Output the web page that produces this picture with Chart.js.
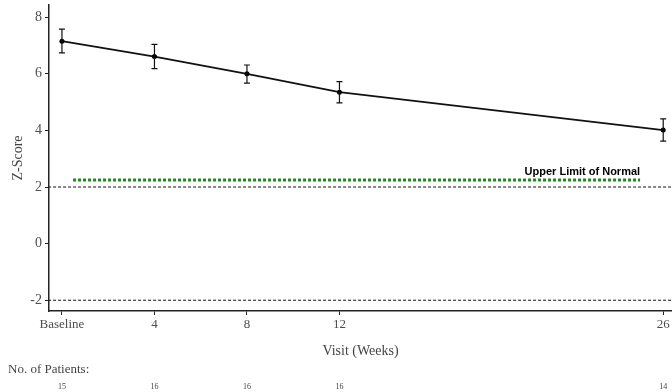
<!DOCTYPE html>
<html>
<head>
<meta charset="utf-8">
<script src="https://cdn.jsdelivr.net/npm/chart.js@4/dist/chart.umd.min.js"></script>
<style>
  html, body { margin: 0; padding: 0; background: #fff; }
  canvas { display: block; }
</style>
</head>
<body>
<canvas id="zscore" width="672" height="392"></canvas>
<script>
// visit weeks and their labels
const weeks = [0, 4, 8, 12, 26];
const weekLabels = ['Baseline', '4', '8', '12', '26'];

// mean z-score with error bar ends
const zMean  = [7.15, 6.61, 6.00, 5.35, 4.01];
const zUpper = [7.58, 7.04, 6.31, 5.72, 4.41];
const zLower = [6.74, 6.18, 5.67, 4.97, 3.62];

const patients = [15, 16, 16, 16, 14];

// reference lines
const normalBounds = [2, -2];
const upperLimit = 2.25;
const upperLimitSpan = [0.48, 25.0];

const yTicks = [-2, 0, 2, 4, 6, 8];

const serif = '"Liberation Serif", "DejaVu Serif", serif';
const sans = '"Liberation Sans", Arial, sans-serif';

const errorBars = {
	id: 'errorBars',
	afterDatasetsDraw(chart) {
		const { ctx, scales: { x, y } } = chart;
		ctx.save();
		ctx.strokeStyle = '#111';
		ctx.lineWidth = 1.2;
		weeks.forEach((w, i) => {
			let px = x.getPixelForValue(w);
			let top = y.getPixelForValue(zUpper[i]);
			let bot = y.getPixelForValue(zLower[i]);
			ctx.beginPath();
			ctx.moveTo(px, top); ctx.lineTo(px, bot);
			ctx.moveTo(px - 3, top); ctx.lineTo(px + 3, top);
			ctx.moveTo(px - 3, bot); ctx.lineTo(px + 3, bot);
			ctx.stroke();
		});
		ctx.restore();
	}
};

const labels = {
	id: 'labels',
	afterDraw(chart) {
		const { ctx, scales: { x, y } } = chart;
		ctx.save();
		ctx.fillStyle = '#000';
		ctx.font = 'bold 11px ' + sans;
		ctx.textAlign = 'right';
		ctx.textBaseline = 'alphabetic';
		ctx.fillText('Upper Limit of Normal', x.getPixelForValue(upperLimitSpan[1]), y.getPixelForValue(upperLimit) - 5);

		ctx.fillStyle = '#444';
		ctx.font = '14px ' + serif;
		ctx.textAlign = 'center';
		ctx.textBaseline = 'middle';
		ctx.fillText('Visit (Weeks)', (x.left + x.right) / 2, 351);

		ctx.save();
		ctx.translate(18, (y.top + y.bottom) / 2);
		ctx.rotate(-Math.PI / 2);
		ctx.fillText('Z-Score', 0, 0);
		ctx.restore();

		ctx.textAlign = 'left';
		ctx.font = '13px ' + serif;
		ctx.fillText('No. of Patients:', 8, 370);

		ctx.textAlign = 'center';
		ctx.font = '8px ' + serif;
		weeks.forEach((w, i) => {
			ctx.fillText(String(patients[i]), x.getPixelForValue(w), 387);
		});
		ctx.restore();
	}
};

new Chart(document.getElementById('zscore'), {
	type: 'line',
	data: {
		datasets: [
			{
				data: weeks.map((w, i) => ({ x: w, y: zMean[i] })),
				borderColor: '#111',
				borderWidth: 1.8,
				pointRadius: 2.5,
				pointBackgroundColor: '#000',
				pointBorderWidth: 0,
				tension: 0
			},
			{
				data: [{ x: upperLimitSpan[0], y: upperLimit }, { x: upperLimitSpan[1], y: upperLimit }],
				borderColor: '#1a8a1a',
				borderWidth: 3,
				borderDash: [3, 2],
				pointRadius: 0
			},
			...normalBounds.map(v => ({
				data: [{ x: -0.6, y: v }, { x: 26.5, y: v }],
				borderColor: '#111',
				borderWidth: 1,
				borderDash: [3, 2],
				pointRadius: 0
			}))
		]
	},
	options: {
		responsive: false,
		animation: false,
		layout: { autoPadding: false, padding: { top: 5, left: 0, right: 0, bottom: 0 } },
		plugins: { legend: { display: false }, tooltip: { enabled: false } },
		scales: {
			x: {
				type: 'linear',
				min: -0.56,
				max: 26.38,
				afterFit: s => { s.height = 81; s.paddingLeft = 0; s.paddingRight = 0; },
				afterBuildTicks: s => { s.ticks = weeks.map(v => ({ value: v })); },
				grid: { display: true, drawOnChartArea: false, drawTicks: true, tickLength: 4, color: '#222', lineWidth: 1 },
				border: { display: true, color: '#222', width: 1.5 },
				ticks: {
					color: '#4d4d4d',
					font: { family: serif, size: 13 },
					padding: 2,
					maxRotation: 0,
					callback: v => weekLabels[weeks.indexOf(v)]
				}
			},
			y: {
				type: 'linear',
				min: -2.38,
				max: 8.43,
				afterFit: s => { s.width = 49; s.paddingTop = 0; s.paddingBottom = 0; },
				afterBuildTicks: s => { s.ticks = yTicks.map(v => ({ value: v })); },
				grid: { display: true, drawOnChartArea: false, drawTicks: true, tickLength: 4, color: '#222', lineWidth: 1 },
				border: { display: true, color: '#222', width: 1.5 },
				ticks: {
					color: '#4d4d4d',
					font: { family: serif, size: 14 },
					padding: 3
				}
			}
		}
	},
	plugins: [errorBars, labels]
});
</script>
</body>
</html>
